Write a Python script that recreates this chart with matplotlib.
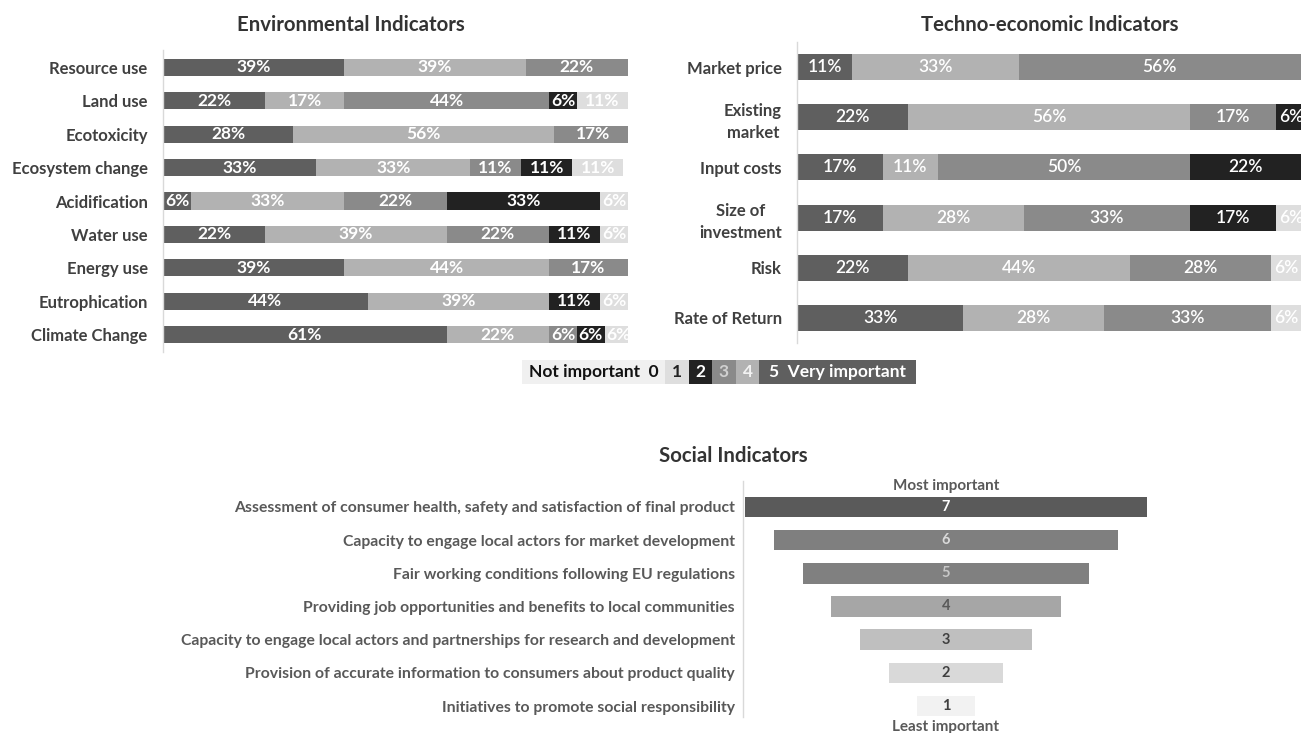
import matplotlib
matplotlib.use("Agg")
import matplotlib.pyplot as plt
from matplotlib.patches import Rectangle

plt.rcParams['font.family'] = ['Lato', 'DejaVu Sans']

# ---- data -------------------------------------------------------------
score_levels = [5, 4, 3, 2, 1]          # stacking order, left to right

env_categories = ["Resource use", "Land use", "Ecotoxicity", "Ecosystem change",
                  "Acidification", "Water use", "Energy use", "Eutrophication",
                  "Climate Change"]
env_score5 = [39, 22, 28, 33, 6, 22, 39, 44, 61]
env_score4 = [39, 17, 56, 33, 33, 39, 44, 39, 22]
env_score3 = [22, 44, 17, 11, 22, 22, 17, 0, 6]
env_score2 = [0, 6, 0, 11, 33, 11, 0, 11, 6]
env_score1 = [0, 11, 0, 11, 6, 6, 0, 6, 6]

tech_categories = ["Market price", "Existing\nmarket", "Input costs",
                   "Size of\ninvestment", "Risk", "Rate of Return"]
tech_score5 = [11, 22, 17, 17, 22, 33]
tech_score4 = [33, 56, 11, 28, 44, 28]
tech_score3 = [56, 17, 50, 33, 28, 33]
tech_score2 = [0, 6, 22, 17, 0, 0]
tech_score1 = [0, 0, 0, 6, 6, 6]

legend_levels = [0, 1, 2, 3, 4, 5]

social_categories = [
    "Assessment of consumer health, safety and satisfaction of final product",
    "Capacity to engage local actors for market development",
    "Fair working conditions following EU regulations",
    "Providing job opportunities and benefits to local communities",
    "Capacity to engage local actors and partnerships for research and development",
    "Provision of accurate information to consumers about product quality",
    "Initiatives to promote social responsibility",
]
social_rank = [7, 6, 5, 4, 3, 2, 1]

# ---- styling ----------------------------------------------------------
level_colors = {0: "#f0f0f0", 1: "#dedede", 2: "#222222", 3: "#8a8a8a",
                4: "#b2b2b2", 5: "#5f5f5f"}
rank_colors = {7: "#5a5a5a", 6: "#7f7f7f", 5: "#808080", 4: "#a6a6a6",
               3: "#bfbfbf", 2: "#d9d9d9", 1: "#f2f2f2"}
rank_text = {7: "#ffffff", 6: "#d9d9d9", 5: "#c8c8c8", 4: "#595959",
             3: "#404040", 2: "#404040", 1: "#404040"}
label_color = "#404040"
spine_color = "#d9d9d9"

W, H = 1301, 733
fig = plt.figure(figsize=(W / 100, H / 100), dpi=100)


def px_axes(x0, y0, x1, y1):
    """Axes placed by pixel box (top-left origin)."""
    return fig.add_axes([x0 / W, 1 - y1 / H, (x1 - x0) / W, (y1 - y0) / H])


def style_axes(ax, pad):
    for s in ("top", "right", "bottom"):
        ax.spines[s].set_visible(False)
    ax.spines["left"].set_color(spine_color)
    ax.spines["left"].set_linewidth(1.0)
    ax.set_xticks([])
    ax.tick_params(axis="y", length=0, pad=pad)


def stacked(ax, cats, series, height, fs, weight):
    ypos = list(range(len(cats)))
    left = [0] * len(cats)
    for lvl, vals in zip(score_levels, series):
        ax.barh(ypos, vals, left=left, height=height, color=level_colors[lvl],
                edgecolor="none")
        for y, l, v in zip(ypos, left, vals):
            if v > 0:
                ax.text(l + v / 2, y, f"{v}%", ha="center", va="center",
                        color="white", fontsize=fs, fontweight=weight)
        left = [a + b for a, b in zip(left, vals)]
    ax.set_xlim(0, 100)
    ax.set_yticks(ypos)
    ax.set_yticklabels(cats, fontsize=12, fontweight="bold", color=label_color,
                       multialignment="center", linespacing=1.45)
    style_axes(ax, 11)


# Environmental indicators
ax_env = px_axes(163, 50, 628, 352)
stacked(ax_env, env_categories,
        [env_score5, env_score4, env_score3, env_score2, env_score1],
        0.51, 12.5, "bold")
ax_env.set_ylim(8.51, -0.51)
fig.text(351 / W, 1 - 25 / H, "Environmental Indicators", ha="center",
         va="center", fontsize=14.7, fontweight="bold", color="#333333")

# Techno-economic indicators
ax_tech = px_axes(797, 42, 1301, 343)
stacked(ax_tech, tech_categories,
        [tech_score5, tech_score4, tech_score3, tech_score2, tech_score1],
        0.52, 12.5, "semibold")
ax_tech.set_ylim(5.5, -0.5)
fig.text(1050 / W, 1 - 25 / H, "Techno-economic Indicators", ha="center",
         va="center", fontsize=14.7, fontweight="bold", color="#333333")

# Score legend
ax_leg = px_axes(522, 360, 916, 384)
ax_leg.set_xlim(522, 916)
ax_leg.set_ylim(0, 1)
ax_leg.axis("off")
seg_bounds = {0: (522, 665), 1: (665, 689), 2: (689, 712), 3: (712, 736),
              4: (736, 759), 5: (759, 916)}
seg_text = {0: "Not important  0", 1: "1", 2: "2", 3: "3", 4: "4",
            5: "5  Very important"}
seg_tcolor = {0: "#111111", 1: "#222222", 2: "#ffffff", 3: "#d0d0d0",
              4: "#f2f2f2", 5: "#ffffff"}
for lvl in legend_levels:
    a, b = seg_bounds[lvl]
    ax_leg.add_patch(Rectangle((a, 0), b - a, 1, color=level_colors[lvl], lw=0))
    ax_leg.text((a + b) / 2, 0.48, seg_text[lvl], ha="center", va="center",
                fontsize=12.5, fontweight="bold", color=seg_tcolor[lvl])

# Social indicators (funnel)
ax_soc = px_axes(743, 481, 1149, 717)
ypos = list(range(len(social_categories)))
ax_soc.barh(ypos, social_rank, left=[-r / 2 for r in social_rank], height=0.62,
            color=[rank_colors[r] for r in social_rank], edgecolor="none")
for y, r in zip(ypos, social_rank):
    ax_soc.text(0, y, str(r), ha="center", va="center", fontsize=10.5,
                fontweight="bold", color=rank_text[r])
ax_soc.set_xlim(-3.54, 3.54)
ax_soc.set_ylim(6.33, -0.78)
ax_soc.set_yticks(ypos)
ax_soc.set_yticklabels(social_categories, fontsize=11.3, fontweight="bold",
                       color="#595959")
style_axes(ax_soc, 6)
ax_soc.text(0, -0.62, "Most important", ha="center", va="center", fontsize=11,
            fontweight="bold", color="#595959")
ax_soc.text(0, 6.63, "Least important", ha="center", va="center", fontsize=11,
            fontweight="bold", color="#595959", clip_on=False)
fig.text(733 / W, 1 - 456 / H, "Social Indicators", ha="center", va="center",
         fontsize=14.7, fontweight="bold", color="#333333")

fig.savefig("out.png", dpi=100, facecolor="white")
